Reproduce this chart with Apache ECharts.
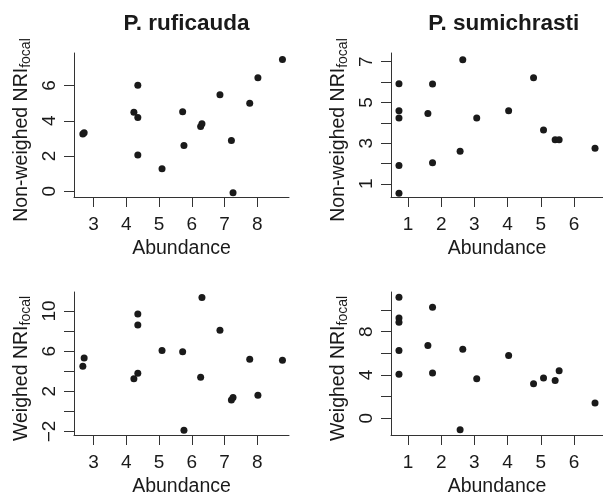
<!DOCTYPE html>
<html>
<head>
<meta charset="utf-8">
<script src="https://cdn.jsdelivr.net/npm/echarts@6/dist/echarts.min.js"></script>
<style>
  html, body { margin: 0; padding: 0; background: #fff; }
  #chart { width: 603px; height: 498px; }
</style>
</head>
<body>
<div id="chart"></div>
<script>
// P. ruficauda (left column)
const rufAbund = [2.67, 2.71, 4.23, 4.35, 4.35, 4.35, 5.09, 5.72, 5.76, 6.27, 6.31, 6.86, 7.21, 7.26, 7.77, 8.02, 8.77];
const rufNonW  = [3.25, 3.32, 4.48, 6.02, 4.19, 2.05, 1.28, 4.51, 2.59, 3.68, 3.83, 5.48, 2.88, -0.09, 5.00, 6.45, 7.48];
const rufW     = [4.49, 5.31, 3.26, 9.70, 8.60, 3.79, 6.07, 5.93, -1.89, 3.40, 11.35, 8.08, 1.12, 1.38, 5.20, 1.61, 5.10];

// P. sumichrasti (right column)
const sumAbund = [0.73, 0.73, 0.73, 0.73, 0.73, 1.60, 1.74, 1.74, 2.57, 2.65, 3.07, 4.03, 4.78, 5.08, 5.43, 5.55, 6.63];
const sumNonW  = [5.92, 4.59, 4.23, 1.90, 0.54, 4.46, 5.90, 2.03, 2.60, 7.10, 4.23, 4.59, 6.21, 3.64, 3.16, 3.16, 2.75];
const sumW     = [11.18, 9.26, 8.86, 6.26, 4.06, 6.72, 10.27, 4.18, -1.07, 6.38, 3.64, 5.80, 3.17, 3.72, 3.48, 4.39, 1.40];

// ticks and labels
const rufXTicks = [3, 4, 5, 6, 7, 8];
const sumXTicks = [1, 2, 3, 4, 5, 6];
const rufNonWTicks = [0, 2, 4, 6];
const rufNonWLabels = [0, 2, 4, 6];
const sumNonWTicks = [1, 2, 3, 4, 5, 6, 7];
const sumNonWLabels = [1, 3, 5, 7];
const rufWTicks = [-2, 0, 2, 4, 6, 8, 10];
const rufWLabels = [-2, 2, 6, 10];
const sumWTicks = [0, 2, 4, 6, 8, 10];
const sumWLabels = [0, 4, 8];

const titles = ['P. ruficauda', 'P. sumichrasti'];
const xName = 'Abundance';

const FONT = 'Liberation Sans, Arial, sans-serif';
const ink = '#1a1a1a';

function xAxis(idx, min, max, ticks) {
  return {
    type: 'value', gridIndex: idx, min: min, max: max,
    name: xName, nameLocation: 'middle', nameGap: 42,
    nameTextStyle: { fontFamily: FONT, fontSize: 19.5, color: ink },
    splitLine: { show: false },
    axisLine: { onZero: false, lineStyle: { color: '#333', width: 1 } },
    axisTick: { customValues: ticks, length: 10, lineStyle: { color: '#333' } },
    axisLabel: { customValues: ticks, margin: 18, fontFamily: FONT, fontSize: 19, color: ink }
  };
}

function yAxis(idx, min, max, ticks, labels, nm) {
  return {
    type: 'value', gridIndex: idx, min: min, max: max,
    name: '{a|' + nm + ' NRI}{b|focal}', nameLocation: 'middle', nameGap: 41, nameRotate: 90,
    nameTextStyle: {
      padding: [0, 10, 0, 0],
      rich: {
        a: { fontFamily: FONT, fontSize: 19.5, color: ink },
        b: { fontFamily: FONT, fontSize: 14, color: ink, verticalAlign: 'bottom', padding: [8, 0, 0, 0] }
      }
    },
    splitLine: { show: false },
    axisLine: { onZero: false, lineStyle: { color: '#333', width: 1 } },
    axisTick: { customValues: ticks, length: 10, lineStyle: { color: '#333' } },
    axisLabel: {
      customValues: labels, rotate: 90, margin: 15, fontFamily: FONT, fontSize: 19, color: ink,
      formatter: v => String(v).replace('-', '\u2212')
    }
  };
}

function pairs(xs, ys) {
  return xs.map((x, i) => [x, ys[i]]);
}

const option = {
  animation: false,
  backgroundColor: '#fff',
  title: [
    { text: titles[0], left: 181.5, top: 7, textAlign: 'center',
      textStyle: { fontFamily: FONT, fontSize: 22.5, fontWeight: 'bold', color: ink } },
    { text: titles[1], left: 498.8, top: 7, textAlign: 'center',
      textStyle: { fontFamily: FONT, fontSize: 22.5, fontWeight: 'bold', color: ink } }
  ],
  grid: [
    { left: 74, top: 53, width: 215, height: 144 },
    { left: 391, top: 53, width: 216, height: 144 },
    { left: 74, top: 292, width: 215, height: 144 },
    { left: 391, top: 292, width: 216, height: 144 }
  ],
  xAxis: [
    xAxis(0, 2.4, 8.97, rufXTicks),
    xAxis(1, 0.49, 6.87, sumXTicks),
    xAxis(2, 2.4, 8.97, rufXTicks),
    xAxis(3, 0.49, 6.87, sumXTicks)
  ],
  yAxis: [
    yAxis(0, -0.33, 7.85, rufNonWTicks, rufNonWLabels, 'Non-weighed'),
    yAxis(1, 0.35, 7.43, sumNonWTicks, sumNonWLabels, 'Non-weighed'),
    yAxis(2, -2.36, 11.9, rufWTicks, rufWLabels, 'Weighed'),
    yAxis(3, -1.56, 11.67, sumWTicks, sumWLabels, 'Weighed')
  ],
  series: [
    [rufAbund, rufNonW], [sumAbund, sumNonW], [rufAbund, rufW], [sumAbund, sumW]
  ].map((d, i) => ({
    type: 'scatter', xAxisIndex: i, yAxisIndex: i,
    symbol: 'circle', symbolSize: 7,
    itemStyle: { color: ink, opacity: 1 },
    data: pairs(d[0], d[1])
  }))
};

const myChart = echarts.init(document.getElementById('chart'));
myChart.setOption(option);
</script>
</body>
</html>
